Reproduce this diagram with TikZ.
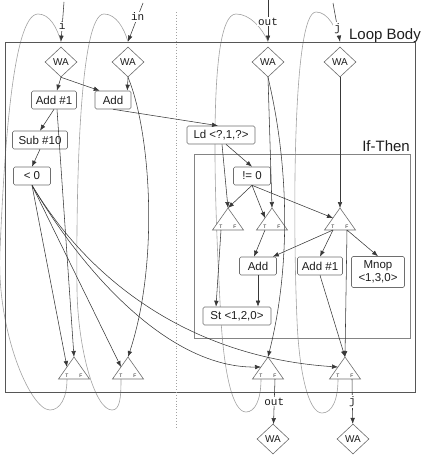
\documentclass[tikz,border=0pt]{standalone}
\usepackage{fontspec}
\setmainfont{Liberation Sans}
\setmonofont{Liberation Mono}
\usetikzlibrary{arrows.meta,shapes.geometric,backgrounds}
\definecolor{ink}{HTML}{1E1E1E}
\definecolor{edge}{HTML}{383838}
\definecolor{frame}{HTML}{6E6E6E}
\definecolor{loopc}{HTML}{A2A2A2}
\tikzset{
  every node/.style={font=\fontsize{11.5}{13}\selectfont,text=ink},
  arr/.style={-{Latex[length=6pt,width=4.6pt]},line width=.55pt,draw=edge},
  back/.style={line width=.6pt,draw=loopc},
  op/.style={draw=frame,line width=.6pt,rounded corners=1.5pt,fill=white,minimum height=18pt,inner sep=2pt,align=center},
  wa/.style={diamond,draw=frame,line width=.6pt,fill=white,minimum width=32pt,minimum height=30pt,inner sep=0pt,font=\fontsize{10}{12}\selectfont},
  var/.style={font=\ttfamily\fontsize{11}{13}\selectfont,fill=white,inner sep=1pt},
  tf/.style={font=\fontsize{5}{6}\selectfont,inner sep=0pt},
  region/.style={draw=#1,line width=.8pt,inner sep=0pt},
  regiontitle/.style={font=\fontsize{15}{18}\selectfont,inner sep=0pt,anchor=east}
}
% steer: name, x and y of the middle of the base
\newcommand{\steer}[3]{%
  \draw[draw=frame,line width=.6pt,fill=white] (#2-15.5,#3) -- (#2,#3-22) -- (#2+15.5,#3) -- cycle;
  \coordinate (#1-top) at (#2,#3-22);
  \coordinate (#1-l) at (#2-7,#3-12);
  \coordinate (#1-T) at (#2-7,#3);
  \coordinate (#1-F) at (#2+7,#3);
  \node[tf] (#1-tl) at (#2-7,#3-3.5) {T};
  \node[tf] (#1-fl) at (#2+7,#3-3.5) {F};
}

\begin{document}
\begin{tikzpicture}[x=1pt,y=-1pt]
  \path[use as bounding box] (0,0) rectangle (427,455);
  \node[region=edge!85,minimum width=410pt,minimum height=350pt] (body) at (210,217) {};
  \node[regiontitle] (bodytitle) at (421,36) {Loop Body};
  \node[region=frame!85,minimum width=216pt,minimum height=184pt] (ifthen) at (302,246) {};
  \node[regiontitle] (iftitle) at (410,146) {If-Then};
  \draw[dotted,draw=loopc,line width=.9pt] (176,12) -- (176,428);

  \node[wa] (wai) at (61,62) {WA};
  \node[wa] (wain) at (128,62) {WA};
  \node[wa] (waout) at (268,62) {WA};
  \node[wa] (waj) at (340,62) {WA};
  \foreach \n in {wai,wain,waout,waj} {\coordinate (\n-in) at (\n.north |- body.north);}

  \node[op,minimum width=45pt] (addone) at (54,100) {Add \#1};
  \node[op,minimum width=36pt] (addl) at (113,100) {Add};
  \node[op,minimum width=55pt] (subten) at (40,140) {Sub \#10};
  \node[op,minimum width=37pt] (ltz) at (32,176) {< 0};
  \node[op,minimum width=68pt] (ld) at (221,135) {Ld <?,1,?>};
  \node[op,minimum width=37pt] (nez) at (252,176) {!= 0};
  \steer{sa}{228}{230}
  \steer{sb}{272}{230}
  \steer{sc}{340}{230}
  \node[op,minimum width=37pt] (addin) at (258,266) {Add};
  \node[op,minimum width=45pt] (addonein) at (320,266) {Add \#1};
  \node[op,minimum width=53pt,minimum height=31pt] (mnop) at (378,272) {Mnop\\<1,3,0>};
  \node[op,minimum width=68pt] (st) at (237,316) {St <1,2,0>};
  \steer{sl}{74}{379}
  \steer{sm}{128}{379}
  \steer{so}{268}{379}
  \steer{sj}{345}{379}
  \node[wa] (waoutb) at (273,439) {WA};
  \node[wa] (wajb) at (353,439) {WA};

  \coordinate (itop) at (64,2);
  \coordinate (intop) at (143,3);
  \coordinate (outtop) at (268,0);
  \coordinate (jtop) at (333,3);
  \draw[arr] (itop) -- node[var,pos=.6] (ilbl) {i} (wai-in);
  \draw[arr] (intop) -- node[var,pos=.36] (inlbl) {in} (wain-in);
  \draw[arr] (outtop) -- node[var,pos=.52] (outlbla) {out} (waout-in);
  \draw[arr] (jtop) -- node[var,pos=.66] (jlbla) {j} (waj-in);

  \draw[arr] (wai.south) -- (addone);
  \draw[arr] (wai.south) -- ([xshift=5pt]addl.north west);
  \draw[arr] (wain.south) -- ([xshift=-4pt]addl.north east);
  \draw[arr] (wain.south) .. controls (150,130) and (160,260) .. (sm-top);
  \draw[arr] (addone.south) -- (subten.north);
  \draw[arr] ([xshift=3pt]addone.south) -- (sl-top);
  \draw[arr] (subten.south) -- (ltz.north);
  \draw[arr] (ltz.south) -- (sl-l);
  \draw[arr] (ltz.south) -- (sm-l);
  \draw[arr] (ltz.south) .. controls (85,275) and (170,368) .. (so-l);
  \draw[arr] (ltz.south) .. controls (95,290) and (200,358) .. (sj-l);
  \draw[arr] (addl.south) -- ([xshift=-3pt]ld.north);
  \draw[arr] ([xshift=1pt]ld.south) -- (sa-top);
  \draw[arr] ([xshift=5pt]ld.south) -- (nez.north);
  \draw[arr] (nez.south) -- (sa-top);
  \draw[arr] (nez.south) -- (sb-l);
  \draw[arr] (nez.south) -- (sc-l);
  \draw[arr] (waout.south) -- (sb-top);
  \draw[arr] (waout.south) .. controls (290,170) and (290,270) .. (so-top);
  \draw[arr] (waj.south) -- (sc-top);
  \draw[arr] (sb-T) -- ([xshift=-4pt]addin.north);
  \draw[arr] (sc-T) -- ([xshift=-4pt]addin.north east);
  \draw[arr] (sc-T) -- (addonein.north);
  \draw[arr] (sc-F) -- (mnop.north);
  \draw[arr] (sc-F) -- (sj-top);
  \draw[arr] (addonein.south) -- (sj-top);
  \draw[arr] (sa-T) -- ([xshift=-21pt]st.north);
  \draw[arr] (addin.south) -- ([xshift=21pt]st.north);
  \draw[arr] (so-F) -- node[var] (outlblb) {out} (waoutb);
  \draw[arr] (sj-F) -- node[var] (jlblb) {j} (wajb);

  \begin{scope}[on background layer]
    \draw[back] (sl-T) .. controls (67,398) and (60,410) .. (50,410) .. controls (30,410) and (-4,330) .. (0,250) .. controls (4,160) and (12,14) .. (38,14) .. controls (50,14) and (57,28) .. (wai-in);
    \draw[back] (sm-T) .. controls (121,398) and (120,410) .. (112,410) .. controls (95,410) and (78,350) .. (77,290) .. controls (76,180) and (80,14) .. (104,14) .. controls (116,14) and (124,28) .. (wain-in);
    \draw[back] (so-T) .. controls (261,400) and (255,412) .. (246,412) .. controls (232,412) and (224,370) .. (221,320) .. controls (216,230) and (205,14) .. (236,14) .. controls (250,14) and (262,28) .. (waout-in);
    \draw[back] (sj-T) .. controls (338,400) and (332,413) .. (322,413) .. controls (308,413) and (299,370) .. (297,320) .. controls (293,230) and (292,12) .. (316,12) .. controls (328,12) and (336,28) .. (waj-in);
  \end{scope}
\end{tikzpicture}
\end{document}
